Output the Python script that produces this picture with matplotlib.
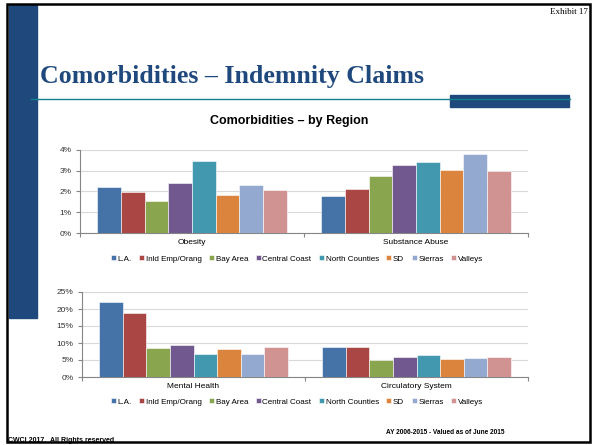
import matplotlib
matplotlib.use("Agg")
import matplotlib.pyplot as plt
from matplotlib.patches import Rectangle
from matplotlib.lines import Line2D
from matplotlib.ticker import FuncFormatter, FixedLocator
import numpy as np

regions = ["L.A.", "Inld Emp/Orang", "Bay Area", "Central Coast", "North Counties", "SD", "Sierras", "Valleys"]
colors = ["#4572A7", "#AA4643", "#89A54E", "#71588F", "#4198AF", "#DB843D", "#93A9CF", "#D19392"]

top_categories = ["Obesity", "Substance Abuse"]
obesity = [2.21, 1.98, 1.53, 2.40, 3.49, 1.84, 2.31, 2.06]
substance_abuse = [1.80, 2.13, 2.75, 3.29, 3.41, 3.06, 3.79, 2.98]

bottom_categories = ["Mental Health", "Circulatory System"]
mental_health = [22.0, 18.9, 8.6, 9.3, 6.7, 8.1, 6.9, 8.8]
circulatory = [8.8, 8.8, 4.9, 5.8, 6.5, 5.4, 5.7, 5.8]

top_yticks = [0, 1, 2, 3, 4]
bottom_yticks = [0, 5, 10, 15, 20, 25]

W, H = 592, 445
fig = plt.figure(figsize=(W / 100, H / 100), dpi=100)
plt.rcParams['font.family'] = ['Liberation Sans', 'DejaVu Sans']

def fx(x):
    return x / W

def fy(y):
    return 1 - y / H

# slide decorations
fig.patches.append(Rectangle((fx(9), fy(318)), fx(37) - fx(9), fy(5) - fy(318),
                             transform=fig.transFigure, color="#1F497D", zorder=1))
fig.patches.append(Rectangle((fx(450), fy(107)), fx(569) - fx(450), fy(95) - fy(107),
                             transform=fig.transFigure, color="#1F497D", zorder=1))
fig.lines.append(Line2D([fx(31), fx(570)], [fy(99), fy(99)], transform=fig.transFigure,
                        color="#12808A", lw=1.0, zorder=2))
fig.patches.append(Rectangle((fx(6.5), fy(442)), fx(590) - fx(6.5), fy(4.5) - fy(442),
                             transform=fig.transFigure, fill=False, ec="black", lw=1.8, zorder=5))

fig.text(fx(588), fy(12), "Exhibit 17", ha="right", va="center", fontsize=6.5,
         family="Liberation Serif")
fig.text(fx(231.5), fy(76.5), "Comorbidities \u2013 Indemnity Claims", ha="center", va="center",
         fontsize=18.6, fontweight="bold", family="Liberation Serif", color="#1F497D", zorder=6)
fig.text(fx(289), fy(121), "Comorbidities \u2013 by Region", ha="center", va="center",
         fontsize=9, fontweight="bold")
fig.text(fx(505), fy(432), "AY 2006-2015 - Valued as of June 2015", ha="right", va="center",
         fontsize=4.7, fontweight="bold")
fig.text(fx(8), fy(441), "CWCI 2017.  All Rights reserved", ha="left", va="center",
         fontsize=5, fontweight="bold")


def draw_panel(rect, cats, series_by_cat, yticks, ylim):
    ax = fig.add_axes(rect)
    n = len(regions)
    gw = 0.845
    bw = gw / n
    x = np.arange(len(cats))
    for i, (name, c) in enumerate(zip(regions, colors)):
        vals = [s[i] for s in series_by_cat]
        ax.bar(x - gw / 2 + bw * (i + 0.5), vals, width=bw, color=c, label=name,
               edgecolor="white", linewidth=0.4, zorder=3)
    ax.set_xlim(-0.5, len(cats) - 0.5)
    ax.set_ylim(*ylim)
    ax.set_yticks(yticks)
    ax.yaxis.set_major_formatter(FuncFormatter(lambda v, p: f"{int(v)}%"))
    ax.grid(axis="y", color="#D9D9D9", lw=0.8, zorder=0)
    ax.set_axisbelow(True)
    for s in ["top", "right"]:
        ax.spines[s].set_visible(False)
    for s in ["left", "bottom"]:
        ax.spines[s].set_color("#868686")
        ax.spines[s].set_linewidth(0.8)
    ax.xaxis.set_major_locator(FixedLocator([-0.5, 0.5, 1.5]))
    ax.xaxis.set_minor_locator(FixedLocator(list(x)))
    ax.xaxis.set_major_formatter(FuncFormatter(lambda v, p: ""))
    ax.set_xticks(list(x), cats, minor=True)
    ax.tick_params(axis="x", which="major", length=3, color="#868686", width=0.8)
    ax.tick_params(axis="x", which="minor", length=0, labelsize=6, pad=4)
    ax.tick_params(axis="y", length=3, color="#868686", width=0.8, labelsize=6, pad=3,
                   labelcolor="#333333")
    return ax


ax1 = draw_panel([fx(80), fy(233), fx(528) - fx(80), fy(150) - fy(233)],
                 top_categories, [obesity, substance_abuse], top_yticks, (0, 4))
ax2 = draw_panel([fx(82), fy(377), fx(528) - fx(82), fy(292) - fy(377)],
                 bottom_categories, [mental_health, circulatory], bottom_yticks, (0, 25))

for ax, ly in [(ax1, 259), (ax2, 402)]:
    h, l = ax.get_legend_handles_labels()
    fig.legend(h, l, loc="center", bbox_to_anchor=(fx(297), fy(ly)), ncol=8, frameon=False,
               fontsize=5.8, handlelength=0.6, handleheight=0.6, handletextpad=0.2,
               columnspacing=0.95, borderaxespad=0)

fig.savefig("out.png", dpi=100)
